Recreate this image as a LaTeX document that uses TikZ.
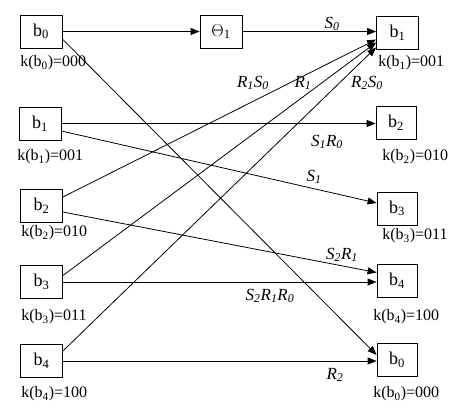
\documentclass[tikz,border=0pt]{standalone}
\usepackage{fontspec}
\setmainfont{Liberation Serif}
\usetikzlibrary{arrows.meta}

\begin{document}
\begin{tikzpicture}[x=1pt,y=-1pt,line width=0.8pt,>={Triangle[length=9pt,width=7pt]}]
				\tikzstyle{blk}=[draw,minimum width=42pt,minimum height=33pt,inner sep=0pt,font=\fontsize{18}{21}\selectfont]
				\tikzstyle{code}=[anchor=west,inner sep=0pt,font=\fontsize{16}{19}\selectfont]
				\tikzstyle{tag}=[inner sep=0pt,font=\fontsize{17}{20}\selectfont\itshape]
				\useasboundingbox (0,0) rectangle (464,415);
				\node[blk] (a0) at (41,31.5) {b\textsubscript{0}};
				\node[blk] (a1) at (40,123.5) {b\textsubscript{1}};
				\node[blk] (a2) at (41.5,206) {b\textsubscript{2}};
				\node[blk] (a3) at (41.5,282) {b\textsubscript{3}};
				\node[blk] (a4) at (41.5,361) {b\textsubscript{4}};
				\node[blk] (t1) at (221,31.5) {$\Theta$\textsubscript{1}};
				\node[blk] (c1) at (397.5,32.5) {b\textsubscript{1}};
				\node[blk, minimum width=40pt] (c2) at (396,123) {b\textsubscript{2}};
				\node[blk, minimum width=40pt] (c3) at (397,208.5) {b\textsubscript{3}};
				\node[blk, minimum width=40pt] (c4) at (397,281) {b\textsubscript{4}};
				\node[blk, minimum width=40pt] (c0) at (397,360) {b\textsubscript{0}};
				\node[code] (ka0) at (20,63) {k(b\textsubscript{0})=000};
				\node[code] (ka1) at (17,157) {k(b\textsubscript{1})=001};
				\node[code] (ka2) at (21,233) {k(b\textsubscript{2})=010};
				\node[code] (ka3) at (21,317) {k(b\textsubscript{3})=011};
				\node[code] (ka4) at (21,394) {k(b\textsubscript{4})=100};
				\node[code] (kc1) at (378,63) {k(b\textsubscript{1})=001};
				\node[code] (kc2) at (382,157) {k(b\textsubscript{2})=010};
				\node[code] (kc3) at (382,236) {k(b\textsubscript{3})=011};
				\node[code] (kc4) at (373,317) {k(b\textsubscript{4})=100};
				\node[code] (kc0) at (373,394) {k(b\textsubscript{0})=000};
				\draw[->] (a0.east) -- (t1.west);
				\draw[->] (t1.east) -- (t1.east -| c1.west);
				\draw[->] ([yshift=9pt]a2.east) -- ([yshift=-7pt]c1.west);
				\draw[->] ([yshift=6.5pt]a3.east) -- ([yshift=-10pt]c1.west);
				\draw[->] ([yshift=10pt]a4.east) -- ([yshift=2pt]c1.south west);
				\draw[->] (a1.east) -- (a1.east -| c2.west);
				\draw[->] ([yshift=-7.5pt]a1.east) -- ([yshift=5.5pt]c3.west);
				\draw[->] ([yshift=-6pt]a2.east) -- ([yshift=8.5pt]c4.west);
				\draw[->] (a3.east) -- (a3.east -| c4.west);
				\draw[->] ([yshift=-7.5pt]a0.east) -- ([yshift=5pt]c0.west);
				\draw[->] (a4.east) -- (a4.east -| c0.west);
				\node[tag] (l1) at (332,24) {S\textsubscript{0}};
				\node[tag] (l2) at (253,83) {R\textsubscript{1}S\textsubscript{0}};
				\node[tag] (l3) at (303,83) {R\textsubscript{1}};
				\node[tag] (l4) at (367,83) {R\textsubscript{2}S\textsubscript{0}};
				\node[tag] (l5) at (327,142) {S\textsubscript{1}R\textsubscript{0}};
				\node[tag] (l6) at (314,177) {S\textsubscript{1}};
				\node[tag] (l7) at (342,255) {S\textsubscript{2}R\textsubscript{1}};
				\node[tag] (l8) at (270,296) {S\textsubscript{2}R\textsubscript{1}R\textsubscript{0}};
				\node[tag] (l9) at (335,375) {R\textsubscript{2}};
				\end{tikzpicture}
\end{document}
